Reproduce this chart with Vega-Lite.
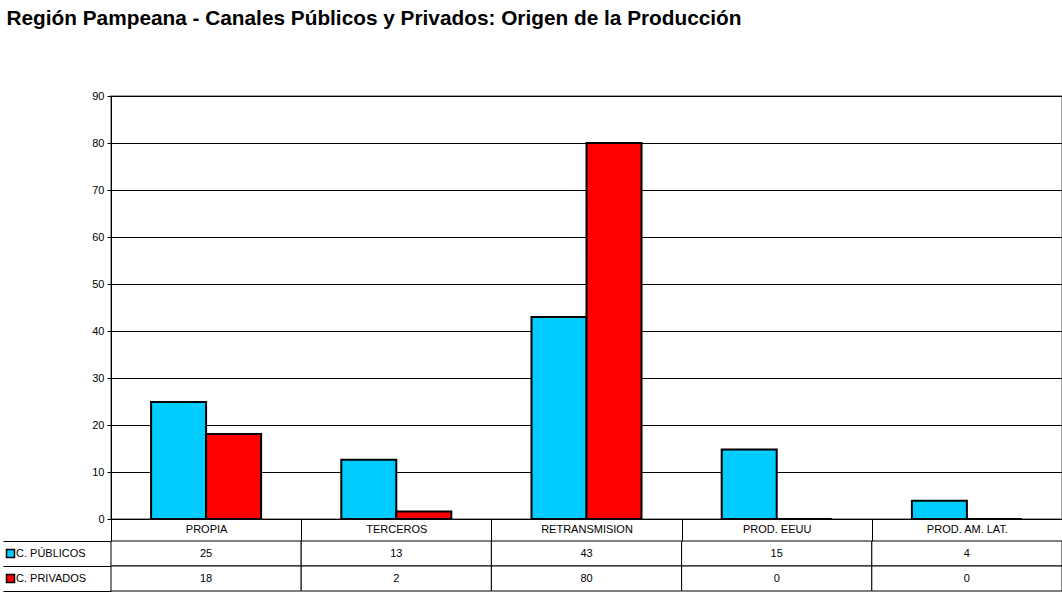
{
  "$schema": "https://vega.github.io/schema/vega-lite/v6.json",
  "padding": {"left": 2, "right": 1, "top": 8, "bottom": 20},
  "background": "white",
  "bounds": "flush",
  "title": {
    "text": "Región Pampeana - Canales Públicos y Privados: Origen de la Producción",
    "anchor": "start",
    "font": "Liberation Sans",
    "fontSize": 20.8,
    "fontWeight": "bold",
    "color": "black",
    "offset": 59,
    "dx": 4
  },
  "config": {
    "axis": {"labelFont": "Liberation Sans", "labelColor": "black", "labelFontSize": 11},
    "legend": {"labelFont": "Liberation Sans", "labelColor": "black", "labelFontSize": 11}
  },
  "datasets": {
    "d": [
      {"category": "PROPIA", "series": "C. PÚBLICOS", "value": 24.9},
      {"category": "PROPIA", "series": "C. PRIVADOS", "value": 18.1},
      {"category": "TERCEROS", "series": "C. PÚBLICOS", "value": 12.6},
      {"category": "TERCEROS", "series": "C. PRIVADOS", "value": 1.6},
      {"category": "RETRANSMISION", "series": "C. PÚBLICOS", "value": 43.0},
      {"category": "RETRANSMISION", "series": "C. PRIVADOS", "value": 80.0},
      {"category": "PROD. EEUU", "series": "C. PÚBLICOS", "value": 14.8},
      {"category": "PROD. EEUU", "series": "C. PRIVADOS", "value": 0},
      {"category": "PROD. AM. LAT.", "series": "C. PÚBLICOS", "value": 3.9},
      {"category": "PROD. AM. LAT.", "series": "C. PRIVADOS", "value": 0}
    ]
  },
  "spacing": 22,
  "resolve": {
    "scale": {"x": "independent", "y": "independent", "color": "independent"},
    "legend": {"color": "independent"}
  },
  "vconcat": [
    {
      "width": 951,
      "height": 423,
      "view": {"stroke": "#808080", "strokeWidth": 1.5},
      "data": {"name": "d"},
      "mark": {"type": "bar", "stroke": "black", "strokeWidth": 2},
      "encoding": {
        "x": {
          "field": "category",
          "type": "nominal",
          "sort": ["PROPIA", "TERCEROS", "RETRANSMISION", "PROD. EEUU", "PROD. AM. LAT."],
          "scale": {"paddingInner": 0, "paddingOuter": 0},
          "axis": {
            "title": null,
            "labelAngle": 0,
            "tickBand": "extent",
            "tickSize": 22,
            "tickColor": "black",
            "domainColor": "black",
            "labelPadding": -18,
            "labelBaseline": "top"
          }
        },
        "xOffset": {
          "field": "series",
          "type": "nominal",
          "sort": ["C. PÚBLICOS", "C. PRIVADOS"],
          "scale": {"paddingInner": 0, "paddingOuter": 0.729}
        },
        "y": {
          "field": "value",
          "type": "quantitative",
          "scale": {"domain": [0, 90], "nice": false},
          "axis": {
            "title": null,
            "values": [0, 10, 20, 30, 40, 50, 60, 70, 80, 90],
            "grid": true,
            "gridColor": "black",
            "gridOpacity": 1,
            "tickSize": 4,
            "tickColor": "black",
            "domainColor": "black",
            "labelPadding": 3
          }
        },
        "color": {
          "field": "series",
          "type": "nominal",
          "scale": {"domain": ["C. PÚBLICOS", "C. PRIVADOS"], "range": ["#00CCFF", "#FF0000"]},
          "legend": null
        }
      }
    },
    {
      "width": 951,
      "height": 50,
      "view": {"stroke": null},
      "data": {"name": "d"},
      "encoding": {
        "x": {
          "field": "category",
          "type": "nominal",
          "sort": ["PROPIA", "TERCEROS", "RETRANSMISION", "PROD. EEUU", "PROD. AM. LAT."],
          "scale": {"paddingInner": 0, "paddingOuter": 0},
          "axis": null
        },
        "y": {
          "field": "series",
          "type": "nominal",
          "sort": ["C. PÚBLICOS", "C. PRIVADOS"],
          "scale": {"paddingInner": 0, "paddingOuter": 0},
          "axis": {
            "title": null,
            "labels": false,
            "domain": false,
            "tickBand": "extent",
            "tickSize": 108,
            "tickColor": "black"
          }
        }
      },
      "layer": [
        {
          "mark": {"type": "point", "shape": "square", "filled": true, "stroke": "black", "strokeWidth": 1.5, "size": 64, "opacity": 1},
          "encoding": {
            "color": {
              "field": "series",
              "type": "nominal",
              "scale": {"domain": ["C. PÚBLICOS", "C. PRIVADOS"], "range": ["#00CCFF", "#FF0000"]},
              "legend": {
                "orient": "none",
                "legendX": -106,
                "legendY": 7,
                "title": null,
                "padding": 0,
                "rowPadding": 10,
                "labelOffset": 0,
                "symbolType": "square",
                "symbolSize": 64,
                "symbolStrokeColor": "black",
                "symbolStrokeWidth": 1.5,
                "symbolOpacity": 1
              }
            }
          }
        },
        {"mark": {"type": "rect", "fill": "white", "stroke": "black", "strokeWidth": 1}},
        {
          "mark": {"type": "text", "fontSize": 11, "font": "Liberation Sans", "color": "black"},
          "encoding": {"text": {"field": "value", "type": "quantitative", "format": ".0f"}}
        }
      ]
    }
  ]
}
